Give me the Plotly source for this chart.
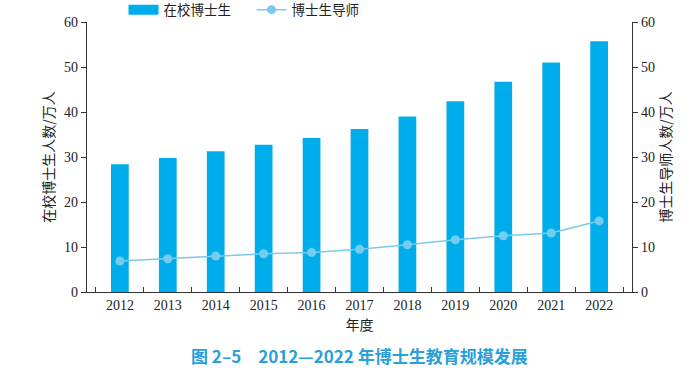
import plotly.graph_objects as go

years = ["2012", "2013", "2014", "2015", "2016", "2017", "2018", "2019", "2020", "2021", "2022"]
students = [28.4, 29.8, 31.3, 32.7, 34.2, 36.2, 39.0, 42.4, 46.7, 51.0, 55.7]
supervisors = [6.9, 7.4, 8.0, 8.5, 8.8, 9.5, 10.5, 11.6, 12.5, 13.1, 15.8]

serif = "Liberation Serif, Times New Roman, serif"
cjk = "Noto Sans CJK SC, sans-serif"
bar_color = "#00ADEB"

fig = go.Figure()
fig.add_trace(go.Bar(x=years, y=students, name="在校博士生", showlegend=False,
                     marker=dict(color=bar_color, line=dict(width=0))))
# legend proxy giving the wide rectangular swatch
fig.add_trace(go.Scatter(x=[None], y=[None], name="在校博士生", mode="lines",
                         line=dict(color=bar_color, width=12), hoverinfo="skip"))
fig.add_trace(go.Scatter(x=years, y=supervisors, name="博士生导师", yaxis="y2",
                         mode="lines+markers",
                         line=dict(color="#7ccbe8", width=1.5),
                         marker=dict(color="#74cdef", size=9)))

axis_common = dict(showgrid=False, zeroline=False, showline=True, linecolor="#333333",
                   linewidth=1.2, range=[0, 60], tickvals=[0, 10, 20, 30, 40, 50, 60],
                   ticks="outside", ticklen=5, tickcolor="#333333",
                   tickfont=dict(family=serif, size=14, color="#222222"))

fig.update_layout(
    width=694, height=384,
    margin=dict(l=87, r=62, t=22, b=92, autoexpand=False),
    paper_bgcolor="white", plot_bgcolor="white",
    bargap=0.63,
    showlegend=True,
    legend=dict(orientation="h", x=0.067, y=1.045, xanchor="left", yanchor="middle",
                font=dict(family=cjk, size=13.5, color="#222222"),
                itemwidth=30, entrywidth=83, bgcolor="rgba(0,0,0,0)"),
    xaxis=dict(type="category", showgrid=False, showline=True, linecolor="#333333", linewidth=1.2,
               ticks="inside", tickson="boundaries", ticklen=5, tickcolor="#333333",
               tickfont=dict(family=serif, size=14, color="#222222"),
               title=dict(text="年度", font=dict(family=cjk, size=14, color="#222222"), standoff=8)),
    yaxis=dict(**axis_common,
               title=dict(text="在校博士生人数/万人", font=dict(family=cjk, size=14, color="#222222"), standoff=6)),
    yaxis2=dict(**axis_common, overlaying="y", side="right",
                title=dict(text="博士生导师人数/万人", font=dict(family=cjk, size=14, color="#222222"), standoff=6)),
)

fig.add_annotation(text="图 2–5　2012—2022 年博士生教育规模发展",
                   xref="paper", yref="paper", x=0.5, y=-0.18, xanchor="center", yanchor="top",
                   showarrow=False,
                   font=dict(family="Noto Sans CJK SC, serif", size=17, color="#2a9fd8", weight="bold"))

fig.write_html("out.html", config={"displayModeBar": False},
               post_script="document.body.style.margin='0';")
